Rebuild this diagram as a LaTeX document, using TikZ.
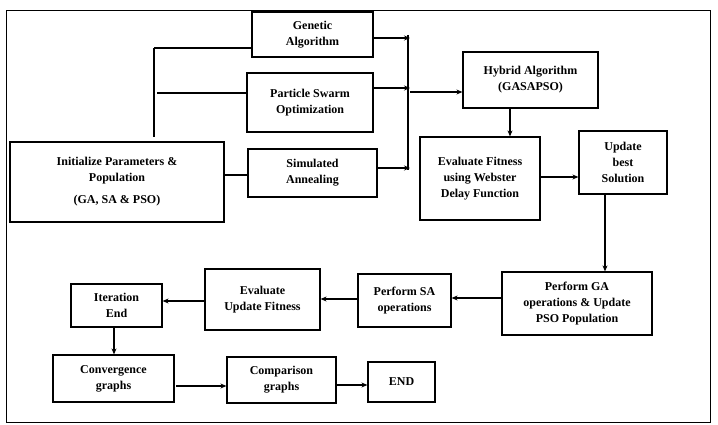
\documentclass[tikz,border=0pt]{standalone}
\usepackage{fontspec}
\setmainfont{Liberation Serif}
\usetikzlibrary{arrows.meta}
\begin{document}
\begin{tikzpicture}[x=1pt,y=-1pt,
  bx/.style={draw,line width=1.2pt,align=center,font=\bfseries\fontsize{12}{16}\selectfont,inner sep=0pt},
  ln/.style={line width=1.2pt},
  ar/.style={line width=1.2pt,-{Stealth[length=6pt,width=5pt]}}]
\useasboundingbox (0,0) rectangle (718,425);
\draw[line width=0.9pt] (6,10) rectangle (710,422);
\newcommand\bxat[6]{\node[bx,minimum width=#4-#2,minimum height=#5-#3] (#1) at ({(#2+#4)/2},{(#3+#5)/2}) {#6};}
\bxat{ga}{252}{12}{373}{57}{Genetic\\Algorithm}
\bxat{pso}{247}{73}{373}{132}{Particle Swarm\\Optimization}
\bxat{sa}{248}{149}{377}{197}{Simulated\\Annealing}
\node[bx,minimum width=214,minimum height=80,align=center] (init) at (117,182) {Initialize Parameters \&\\Population\\[6pt](GA, SA \& PSO)};
\bxat{hyb}{463}{52}{598}{108}{Hybrid Algorithm\\(GASAPSO)}
\bxat{ev}{420}{137}{540}{220}{Evaluate Fitness\\using Webster\\Delay Function}
\bxat{up}{579}{131}{667}{194}{Update\\best\\Solution}
\bxat{pga}{502}{272}{652}{335}{Perform GA\\operations \& Update\\PSO Population}
\bxat{psa}{358}{274}{451}{327}{Perform SA\\operations}
\bxat{euf}{205}{269}{320}{330}{Evaluate\\Update Fitness}
\bxat{it}{71}{284}{162}{327}{Iteration\\End}
\bxat{cv}{53}{355}{174}{402}{Convergence\\graphs}
\bxat{cp}{227}{357}{336}{403}{Comparison\\graphs}
\bxat{en}{368}{362}{435}{402}{END}
\coordinate (t1) at (154,137);
\coordinate (t2) at (154,48);
\draw[ln] (t1) -- (t2);
\draw[ln] (t2) -- (t2 -| ga.west);
\draw[ln] (157,93) -- (157,93 -| pso.west);
\draw[ln] (init.east |- 0,175) -- (sa.west |- 0,175);
\coordinate (b1) at (408,35);
\coordinate (b2) at (408,170);
\draw[ln] (b1) -- (b2);
\draw[ar] (ga.east |- 0,38) -- (410,38);
\draw[ar] (pso.east |- 0,88) -- (410,88);
\draw[ar] (sa.east |- 0,168) -- (410,168);
\draw[ar] (410,92) -- (hyb.west |- 0,92);
\draw[ar] (hyb.south -| 510,0) -- (ev.north -| 510,0);
\draw[ar] (ev.east |- 0,177) -- (up.west |- 0,177);
\draw[ar] (up.south -| 605,0) -- (pga.north -| 605,0);
\draw[ar] (pga.west |- 0,298) -- (psa.east |- 0,298);
\draw[ar] (psa.west |- 0,299) -- (euf.east |- 0,299);
\draw[ar] (euf.west |- 0,301) -- (it.east |- 0,301);
\draw[ar] (it.south -| 114,0) -- (cv.north -| 114,0);
\draw[ar] (176,386) -- (cp.west |- 0,386);
\draw[ar] (cp.east |- 0,385) -- (en.west |- 0,385);
\end{tikzpicture}
\end{document}
